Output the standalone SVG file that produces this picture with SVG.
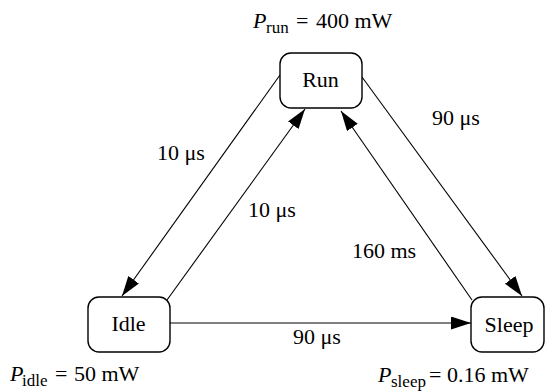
<svg xmlns="http://www.w3.org/2000/svg" width="545" height="392" viewBox="0 0 545 392">
<style>
.box{fill:#fff;stroke:#000;stroke-width:1.4}
.t{font-family:"Liberation Serif",serif;font-size:22px;fill:#000}
.c{text-anchor:middle}
.i{font-style:italic}
.e{stroke:#000;stroke-width:1.1;fill:none;marker-end:url(#ah)}
.sub{font-size:17px}
</style>
<defs>
<marker id="ah" markerUnits="userSpaceOnUse" markerWidth="21" markerHeight="14" refX="20" refY="6.5" orient="auto">
<path d="M0,0 L20,6.5 L0,13 z" fill="#000"/>
</marker>
</defs>
<rect width="545" height="392" fill="#fff"/>
<g id="edges">
<path class="e" d="M280,75 L122,296"/>
<path class="e" d="M167,300 L305,109"/>
<path class="e" d="M362,77 L522,296"/>
<path class="e" d="M472,300 L341,111"/>
<path class="e" d="M170,323 L471,323"/>
<text class="t" x="157" y="160">10 μs</text>
<text class="t" x="248" y="217">10 μs</text>
<text class="t" x="432" y="125">90 μs</text>
<text class="t" x="352" y="258">160 ms</text>
<text class="t" x="293" y="344">90 μs</text>
</g>
<g id="run">
<rect class="box" x="280" y="53" width="82" height="55" rx="11"/>
<text class="t c" x="320.5" y="87">Run</text>
<text class="t i" x="253" y="28">P</text>
<text class="t sub" x="266" y="33">run</text>
<text class="t" x="296" y="28">=</text>
<text class="t" x="316" y="28">400 mW</text>
</g>
<g id="idle">
<rect class="box" x="88" y="297" width="82" height="55" rx="11"/>
<text class="t c" x="128.5" y="330.5">Idle</text>
<text class="t i" x="10" y="381">P</text>
<text class="t sub" x="22" y="386">idle</text>
<text class="t" x="55" y="381">=</text>
<text class="t" x="74" y="381">50 mW</text>
</g>
<g id="sleep">
<rect class="box" x="471" y="297" width="73" height="55" rx="11"/>
<text class="t c" x="509" y="331.5">Sleep</text>
<text class="t i" x="378" y="382">P</text>
<text class="t sub" x="391" y="387">sleep</text>
<text class="t" x="429" y="382">=</text>
<text class="t" x="447" y="382">0.16 mW</text>
</g>
</svg>
